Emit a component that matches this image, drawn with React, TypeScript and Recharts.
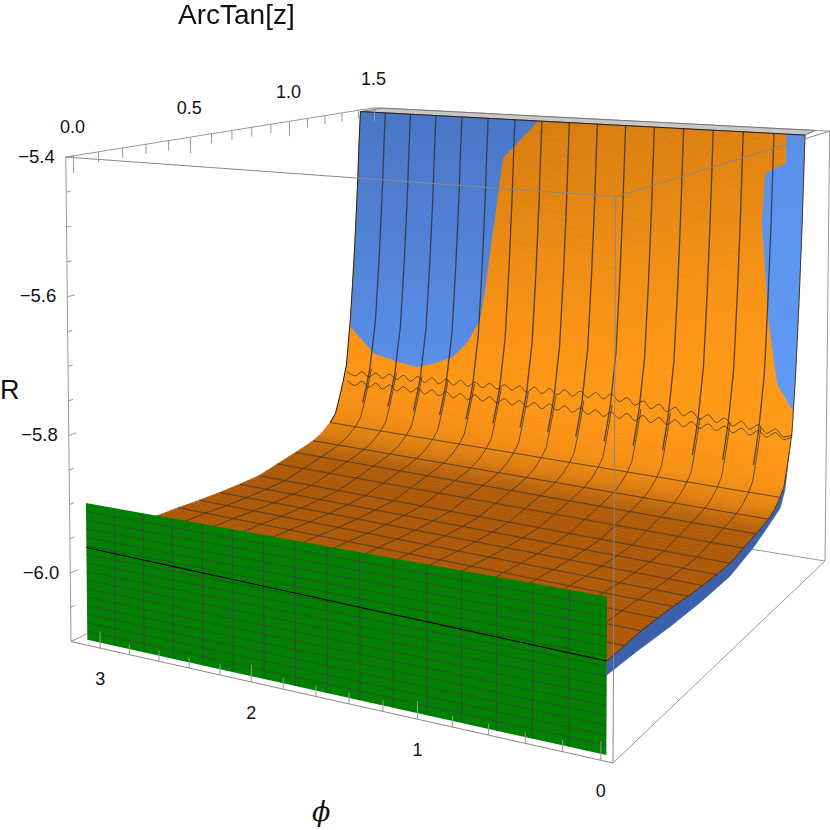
import { ScatterChart, Scatter, XAxis, YAxis } from "recharts"

// Axis ranges of the plot box
const PHI_RANGE = [-0.063, 3.204]
const A_RANGE = [-0.03, 1.5]
const R_RANGE = [-6.1, -5.4]

// Tick values
const phiMajor = [0, 1, 2, 3]
const phiMinor = [0.2, 0.4, 0.6, 0.8, 1.2, 1.4, 1.6, 1.8, 2.2, 2.4, 2.6, 2.8]
const aMajor = [0, 0.5, 1, 1.5]
const aMinor = [0.1, 0.2, 0.3, 0.4, 0.6, 0.7, 0.8, 0.9, 1.1, 1.2, 1.3, 1.4]
const rMajor = [-5.4, -5.6, -5.8, -6.0]
const rMinor = [-5.45, -5.5, -5.55, -5.65, -5.7, -5.75, -5.85, -5.9, -5.95, -6.05]

// Surface: R along ArcTan[z], plus a small rise with phi
const profileA = [0, 0.098, 0.196, 0.295, 0.393, 0.491, 0.589, 0.687, 0.785, 0.884, 0.982, 1.03, 1.08, 1.13, 1.178, 1.21, 1.232, 1.255, 1.276, 1.301, 1.314, 1.327, 1.337, 1.347, 1.356, 1.365]
const profileR = [-5.981, -5.98, -5.979, -5.98, -5.982, -5.985, -5.987, -5.988, -5.988, -5.982, -5.976, -5.973, -5.969, -5.962, -5.95, -5.938, -5.915, -5.888, -5.86, -5.779, -5.72, -5.658, -5.6, -5.54, -5.47, -5.4]
const phiMesh = [0, 0.196, 0.393, 0.589, 0.785, 0.982, 1.178, 1.374, 1.571, 1.767, 1.963, 2.16, 2.356, 2.553, 2.749, 2.945, 3.142]
const phiRise = [0, 0.001, 0.002, 0.003, 0.004, 0.005, 0.006, 0.007, 0.008, 0.009, 0.01, 0.011, 0.012, 0.013, 0.014, 0.015, 0.016]
const aMesh = [0.098, 0.196, 0.295, 0.393, 0.491, 0.589, 0.687, 0.785, 0.884, 0.982, 1.08, 1.178]

// The two wavy contours near ArcTan[z] = 1.28
const wavePhi = [0, 0.054, 0.108, 0.162, 0.216, 0.27, 0.324, 0.378, 0.432, 0.486, 0.54, 0.594, 0.648, 0.702, 0.756, 0.81, 0.864, 0.918, 0.972, 1.026, 1.08, 1.134, 1.188, 1.242, 1.296, 1.35, 1.404, 1.458, 1.512, 1.566, 1.62, 1.674, 1.728, 1.782, 1.836, 1.89, 1.944, 1.998, 2.052, 2.106, 2.16, 2.214, 2.268, 2.322, 2.376, 2.43, 2.484, 2.538, 2.592, 2.646, 2.7, 2.754, 2.808, 2.862, 2.916, 2.97, 3.024, 3.078, 3.142]
const waveUpperR = [-5.866, -5.871, -5.86, -5.869, -5.857, -5.866, -5.855, -5.864, -5.853, -5.862, -5.851, -5.86, -5.849, -5.858, -5.846, -5.855, -5.844, -5.853, -5.842, -5.851, -5.84, -5.848, -5.837, -5.847, -5.838, -5.848, -5.839, -5.849, -5.84, -5.85, -5.841, -5.851, -5.842, -5.852, -5.843, -5.852, -5.844, -5.853, -5.845, -5.854, -5.846, -5.855, -5.846, -5.856, -5.847, -5.857, -5.848, -5.858, -5.849, -5.859, -5.85, -5.859, -5.851, -5.86, -5.852, -5.861, -5.853, -5.862, -5.856]
const waveLowerR = [-5.869, -5.875, -5.866, -5.875, -5.866, -5.875, -5.866, -5.875, -5.866, -5.875, -5.866, -5.875, -5.866, -5.876, -5.866, -5.876, -5.866, -5.876, -5.866, -5.876, -5.866, -5.876, -5.867, -5.876, -5.867, -5.876, -5.867, -5.876, -5.867, -5.876, -5.867, -5.877, -5.868, -5.877, -5.868, -5.877, -5.868, -5.877, -5.868, -5.877, -5.868, -5.878, -5.869, -5.878, -5.869, -5.878, -5.869, -5.878, -5.869, -5.878, -5.87, -5.879, -5.87, -5.879, -5.87, -5.879, -5.87, -5.879, -5.872]

// Where the blue sheet lies above the orange one
const blueLeftPhi = [3.142, 3.142, 3.142, 3.142, 2.938, 2.727, 2.6, 2.467, 2.336, 2.243, 2.16, 2.132, 2.039, 1.794]
const blueLeftA = [1.365, 1.347, 1.327, 1.301, 1.287, 1.284, 1.283, 1.286, 1.29, 1.301, 1.312, 1.321, 1.355, 1.365]
const blueLeftR = [-5.4, -5.54, -5.658, -5.779, -5.819, -5.829, -5.833, -5.823, -5.809, -5.783, -5.743, -5.691, -5.466, -5.4]
const blueRightPhi = [0.118, 0.113, 0.225, 0.243, 0.254, 0.188, 0.11, 0, 0, 0, 0, 0]
const blueRightA = [1.365, 1.359, 1.356, 1.355, 1.347, 1.321, 1.295, 1.284, 1.301, 1.327, 1.347, 1.365]
const blueRightR = [-5.4, -5.445, -5.461, -5.466, -5.543, -5.694, -5.791, -5.83, -5.779, -5.658, -5.54, -5.4]

// Lower edge of the blue sheet at phi = 0
const blueEdgeA = [0, 0.17, 0.373, 0.571, 0.784, 0.96, 1.079, 1.179, 1.22, 1.255]
const blueEdgeR = [-5.999, -6.001, -6.006, -6.008, -6.007, -5.994, -5.98, -5.967, -5.944, -5.888]

// Green wall at ArcTan[z] = 0
const greenR = [-6.1, -6.0875, -6.075, -6.0625, -6.05, -6.0375, -6.025, -6.0125, -6, -5.9875, -5.975, -5.9625, -5.95, -5.9375, -5.925, -5.9125, -5.9]

// Colours of the surface rows, phi = pi side and phi = 0 side
const rowLeft = ["#AB5808", "#AB5808", "#AB5808", "#AB5808", "#AB5808", "#AB5808", "#AB5808", "#AB5808", "#AB5808", "#AC5908", "#B05C09", "#B8620A", "#C56C0C", "#D87A0E", "#E4840F", "#F08B13", "#F68F14", "#FA9315", "#FC9515", "#F89215", "#F08C14", "#E98813", "#E28312", "#DC7F11", "#D57B10", "#CF770F"]
const rowRight = ["#AD5908", "#AD5908", "#AD5908", "#AD5908", "#AD5908", "#AD5908", "#AD5908", "#AD5908", "#AD5908", "#AE5A08", "#B25D09", "#BC640A", "#CC700C", "#E2800F", "#EE8A12", "#F89215", "#FC9516", "#FF9817", "#FF9A18", "#FF9A18", "#FE9817", "#FA9516", "#F59215", "#EE8D14", "#E88813", "#E28413"]

// Image of the box corners and the perspective weight of each axis
const CAM_O = [613, 763]
const CAM_PHI = [71, 641.6]
const CAM_A = [825, 561]
const CAM_R = [615.7, 196.7]
const WEIGHT_PHI = 1.17
const WEIGHT_A = 1.32
const WEIGHT_R = 0.984

const BANDS = 5

const project = (phi: number, a: number, r: number) => {
  const u = (phi - PHI_RANGE[0]) / (PHI_RANGE[1] - PHI_RANGE[0])
  const v = (a - A_RANGE[0]) / (A_RANGE[1] - A_RANGE[0])
  const t = (r - R_RANGE[0]) / (R_RANGE[1] - R_RANGE[0])
  const w = 1 + u * (WEIGHT_PHI - 1) + v * (WEIGHT_A - 1) + t * (WEIGHT_R - 1)
  const axis = (i: number) =>
    (CAM_O[i] +
      u * (WEIGHT_PHI * CAM_PHI[i] - CAM_O[i]) +
      v * (WEIGHT_A * CAM_A[i] - CAM_O[i]) +
      t * (WEIGHT_R * CAM_R[i] - CAM_O[i])) / w
  return { x: axis(0), y: axis(1) }
}

type Pt = { x: number; y: number; label?: string }
const noMark = () => <g />

const surfaceR = (rowR: number, rise: number) => Math.min(rowR + rise, R_RANGE[1])
const rowAt = (a: number) => profileA.indexOf(a)

// A polyline or a filled polygon through the chart's scales
const path = (key: string, data: Pt[], stroke: string, strokeWidth = 1, fill = "none", opacity = 1, joint = "linear") => (
  <Scatter
    key={key}
    data={data}
    line={{ stroke, strokeWidth, fill, strokeOpacity: opacity, strokeLinejoin: "round" }}
    lineType="joint"
    lineJointType={joint as any}
    shape={noMark}
    isAnimationActive={false}
  />
)

const labels = (key: string, data: Pt[], anchor: string, size: number) => (
  <Scatter
    key={key}
    data={data}
    isAnimationActive={false}
    shape={(p: any) => (
      <text x={p.cx} y={p.cy} textAnchor={anchor} dominantBaseline="central" fontSize={size} fontFamily="Liberation Sans" fill="#111">
        {p.payload.label}
      </text>
    )}
  />
)

const corners = (phi: number, a: number, r: number) => project(PHI_RANGE[phi], A_RANGE[a], R_RANGE[r])
const backEdges = [
  [corners(1, 0, 1), corners(1, 1, 1)],
  [corners(1, 1, 1), corners(0, 1, 1)],
  [corners(1, 0, 1), corners(1, 0, 0)],
  [corners(0, 1, 1), corners(0, 1, 0)],
  [corners(1, 0, 0), corners(1, 1, 0)],
  [corners(0, 1, 0), corners(1, 1, 0)],
  [corners(0, 0, 0), corners(0, 1, 0)],
]
const frontEdges = [
  [corners(0, 0, 1), corners(1, 0, 1)],
  [corners(0, 0, 1), corners(0, 1, 1)],
  [corners(0, 0, 1), corners(0, 0, 0)],
  [corners(0, 0, 0), corners(1, 0, 0)],
]

const mix = (p: Pt, q: Pt, f: number) => ({ x: p.x + (q.x - p.x) * f, y: p.y + (q.y - p.y) * f })
const mixColor = (c: string, d: string, f: number) => {
  const part = (s: string, i: number) => parseInt(s.slice(1 + 2 * i, 3 + 2 * i), 16)
  const ch = [0, 1, 2].map((i) => Math.round(part(c, i) + (part(d, i) - part(c, i)) * f))
  return `rgb(${ch[0]},${ch[1]},${ch[2]})`
}

// Each row of the surface is painted in thin bands so the shading runs smoothly
const lastRise = phiRise[phiRise.length - 1]
const bands = profileA.slice(1).flatMap((_, j) => {
  const s = [
    project(0, profileA[j], surfaceR(profileR[j], 0)),
    project(0, profileA[j + 1], surfaceR(profileR[j + 1], 0)),
    project(3.142, profileA[j + 1], surfaceR(profileR[j + 1], lastRise)),
    project(3.142, profileA[j], surfaceR(profileR[j], lastRise)),
  ]
  return Array.from({ length: BANDS }, (_, b) => {
    const f0 = b / BANDS
    const f1 = (b + 1) / BANDS
    const fm = (f0 + f1) / 2
    return {
      id: `band${j}_${b}`,
      pts: [mix(s[0], s[1], f0), mix(s[0], s[1], f1), mix(s[3], s[2], f1), mix(s[3], s[2], f0)],
      left: mixColor(rowLeft[j], rowLeft[j + 1], fm),
      right: mixColor(rowRight[j], rowRight[j + 1], fm),
    }
  })
})

const blueLeft = blueLeftPhi.map((phi, i) => project(phi, blueLeftA[i], blueLeftR[i]))
const blueRight = blueRightPhi.map((phi, i) => project(phi, blueRightA[i], blueRightR[i]))
const blueEdge = [
  ...blueEdgeA.map((a, i) => project(0, a, blueEdgeR[i])),
  ...profileA.filter((a) => a <= 1.255).reverse().map((a) => project(0, a, profileR[rowAt(a)])),
]
const topStrip = [project(3.142, 1.365, -5.4), project(3.142, 1.5, -5.4), project(0.03, 1.5, -5.4), project(0, 1.365, -5.4)]

const closed = (pts: Pt[]) => [...pts, pts[0]]

export default function App() {
  const wallStart = rowAt(1.232)
  const floorEnd = rowAt(1.276)
  return (
    <div style={{ position: "fixed", left: 0, top: 0, width: 830, height: 830, background: "#fff" }}>
      <ScatterChart width={830} height={830} margin={{ top: 0, right: 0, bottom: 0, left: 0 }}>
        <defs>
          {bands.map((b) => (
            <linearGradient key={b.id} id={b.id} x1="0" y1="0" x2="1" y2="0">
              <stop offset="0" stopColor={b.left} />
              <stop offset="1" stopColor={b.right} />
            </linearGradient>
          ))}
          <linearGradient id="blueL" gradientUnits="userSpaceOnUse" x1="0" y1="110" x2="0" y2="370">
            <stop offset="0" stopColor="#4A76C6" />
            <stop offset="1" stopColor="#5A8FE8" />
          </linearGradient>
          <linearGradient id="blueR" gradientUnits="userSpaceOnUse" x1="0" y1="135" x2="0" y2="415">
            <stop offset="0" stopColor="#5A90EA" />
            <stop offset="1" stopColor="#609CF8" />
          </linearGradient>
        </defs>
        <XAxis type="number" dataKey="x" domain={[0, 830]} hide />
        <YAxis type="number" dataKey="y" domain={[0, 830]} reversed hide />

        {backEdges.map((e, i) => path(`back${i}`, e, "#999999"))}
        {path("top", closed(topStrip), "#777777", 1, "#C8C8C8")}
        {path("under", closed(blueEdge), "#3A60AA", 0.5, "#3B61AC")}
        {bands.map((b) => path(b.id, closed(b.pts), `url(#${b.id})`, 0.7, `url(#${b.id})`))}
        {path("blueLeft", closed(blueLeft), "none", 0, "url(#blueL)")}
        {path("blueRight", closed(blueRight), "none", 0, "url(#blueR)")}

        {aMesh.map((a) =>
          path(`rowline${a}`, phiMesh.map((phi, i) => project(phi, a, profileR[rowAt(a)] + phiRise[i])), "#3A3226", 1, "none", 0.75)
        )}
        {path("waveUpper", wavePhi.map((phi, i) => project(phi, 1.28, waveUpperR[i])), "#4A3A22", 1, "none", 0.85, "monotoneX")}
        {path("waveLower", wavePhi.map((phi, i) => project(phi, 1.28, waveLowerR[i])), "#4A3A22", 1, "none", 0.85, "monotoneX")}
        {phiMesh.slice(1, -1).map((phi, k) =>
          path(`floorline${k}`, profileA.slice(0, floorEnd + 1).map((a, j) => project(phi, a, surfaceR(profileR[j], phiRise[k + 1]))), "#3A3226", 1, "none", 0.75)
        )}
        {phiMesh.slice(1, -1).map((phi, k) =>
          path(`wallline${k}`, profileA.slice(wallStart).map((a, j) => project(a < 1.28 ? phi + 0.012 : phi, a, surfaceR(profileR[wallStart + j], phiRise[k + 1]))), "#2E2E2E", 1.3, "none", 0.8)
        )}
        {path("edgeLeft", profileA.slice(14).map((a, j) => project(3.142, a, surfaceR(profileR[14 + j], lastRise))), "#222222", 1)}
        {path("edgeRight", profileA.map((a, j) => project(0, a, profileR[j])), "#222222", 0.8)}
        {path("edgeTop", [project(3.142, 1.365, -5.4), project(0, 1.365, -5.4)], "#222222", 1)}

        {path("green", closed([project(0, 0, -6.1), project(0, 0, -5.9), project(3.142, 0, -5.9), project(3.142, 0, -6.1)]), "none", 0, "#008000")}
        {greenR.slice(1, -1).map((r) =>
          path(`greenRow${r}`, [project(0, 0, r), project(3.142, 0, r)], "#3C3C3C", 1, "none", 0.72)
        )}
        {phiMesh.slice(1, -1).map((phi) =>
          path(`greenCol${phi}`, [project(phi, 0, -6.1), project(phi, 0, -5.9)], "#3C3C3C", 1, "none", 0.8)
        )}
        {path("cut", phiMesh.map((phi, i) => project(phi, 0, profileR[0] + phiRise[i])), "#000000", 1.1)}

        {frontEdges.map((e, i) => path(`front${i}`, e, "#888888"))}

        {phiMajor.map((phi) => path(`phiM${phi}`, [project(phi, A_RANGE[0], -6.1), project(phi, A_RANGE[0], -6.076)], "#999999"))}
        {phiMinor.map((phi) => path(`phim${phi}`, [project(phi, A_RANGE[0], -6.1), project(phi, A_RANGE[0], -6.085)], "#999999"))}
        {aMajor.map((a) => path(`aM${a}`, [project(PHI_RANGE[1], a, -5.4), project(PHI_RANGE[1], a, -5.425)], "#999999"))}
        {aMinor.map((a) => path(`am${a}`, [project(PHI_RANGE[1], a, -5.4), project(PHI_RANGE[1], a, -5.415)], "#999999"))}
        {rMajor.map((r) => path(`rM${r}`, [project(PHI_RANGE[1], A_RANGE[0], r), project(PHI_RANGE[1], 0, r)], "#999999"))}
        {rMinor.map((r) => path(`rm${r}`, [project(PHI_RANGE[1], A_RANGE[0], r), project(PHI_RANGE[1], -0.012, r)], "#999999"))}

        {labels("phiLabels", phiMajor.map((phi) => {
          const p = project(phi, A_RANGE[0], -6.1)
          return { x: p.x, y: p.y + 31, label: String(phi) }
        }), "middle", 18)}
        {labels("aLabels", aMajor.map((a) => {
          const p = project(PHI_RANGE[1], a, -5.4)
          return { x: p.x - 1, y: p.y - 29, label: a.toFixed(1) }
        }), "middle", 18)}
        {labels("rLabels", rMajor.map((r) => {
          const p = project(PHI_RANGE[1], A_RANGE[0], r)
          return { x: p.x - 11, y: p.y - 1, label: "\u2212" + Math.abs(r).toFixed(1) }
        }), "end", 18.5)}
      </ScatterChart>
      <div style={{ position: "absolute", left: 178, top: -1, fontFamily: "Liberation Sans", fontSize: 28, color: "#111", lineHeight: "32px" }}>ArcTan[z]</div>
      <div style={{ position: "absolute", left: 0, top: 374, fontFamily: "Liberation Sans", fontSize: 27, color: "#111", lineHeight: "32px" }}>R</div>
      <div style={{ position: "absolute", left: 312, top: 796, fontFamily: "DejaVu Serif", fontStyle: "italic", fontSize: 27, color: "#111", lineHeight: "32px" }}>ϕ</div>
    </div>
  )
}
